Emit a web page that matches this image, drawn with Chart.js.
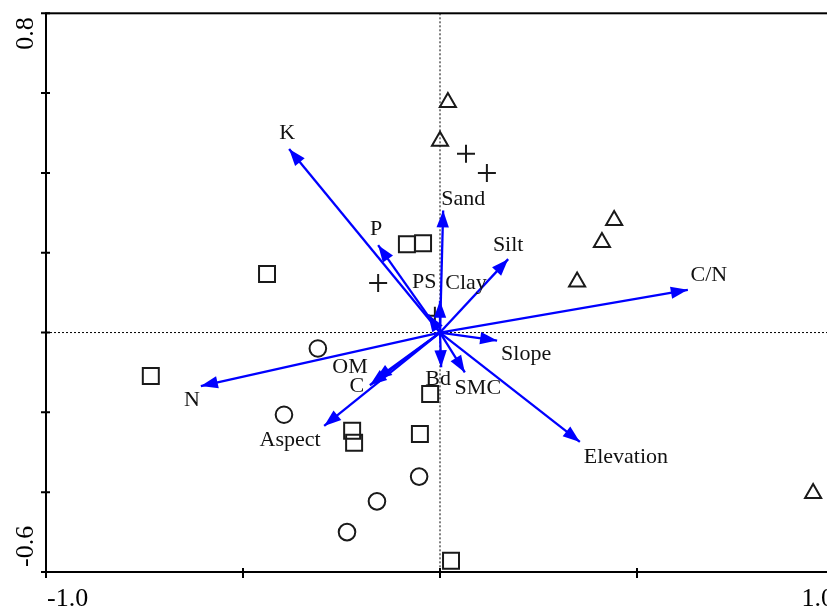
<!DOCTYPE html>
<html>
<head>
<meta charset="utf-8">
<script src="https://cdn.jsdelivr.net/npm/chart.js@4.4.1/dist/chart.umd.min.js"></script>
<style>
  html, body { margin: 0; padding: 0; background: #fff; overflow: hidden; }
  #wrap { width: 850px; height: 609px; position: relative; }
</style>
</head>
<body>
<div id="wrap"><canvas id="rdaChart"></canvas></div>
<script>
// Site scores (axis 1, axis 2)
const triangles = [[0.020, 0.577], [0.000, 0.480], [0.442, 0.281], [0.411, 0.226], [0.348, 0.127], [0.947, -0.403]];
const crosses = [[0.066, 0.448], [0.119, 0.400], [-0.157, 0.124], [-0.013, 0.042]];
const squares = [[-0.084, 0.221], [-0.043, 0.224], [-0.439, 0.147], [-0.734, -0.109], [-0.025, -0.154],
                 [-0.223, -0.246], [-0.218, -0.276], [-0.051, -0.254], [0.028, -0.572]];
const circles = [[-0.310, -0.040], [-0.396, -0.206], [-0.053, -0.361], [-0.160, -0.423], [-0.236, -0.500]];

// Environmental variables (arrow tips)
const envNames = ['K', 'P', 'Sand', 'Silt', 'Clay', 'PS', 'C/N', 'Slope', 'Elevation', 'SMC', 'Bd', 'OM', 'C', 'Aspect', 'N'];
const envX = [-0.383, -0.157, 0.008, 0.173, 0.000, -0.030, 0.629, 0.145, 0.355, 0.063, 0.003, -0.165, -0.178, -0.294, -0.607];
const envY = [0.460, 0.219, 0.306, 0.184, 0.080, 0.045, 0.107, -0.020, -0.274, -0.100, -0.087, -0.119, -0.132, -0.234, -0.134];

// Axis ticks
const xTicks = [-1, -0.5, 0, 0.5, 1];
const xTickLabels = ['-1.0', '', '', '', '1.0'];
const yTicks = [-0.6, -0.4, -0.2, 0, 0.2, 0.4, 0.6, 0.8];
const yTickLabels = ['-0.6', '', '', '', '', '', '', '0.8'];

// label placement relative to arrow tip (px)
const labelOffsets = [[-2, -16], [-2, -16], [20, -11], [0, -14], [26, -17], [-4, -32], [21, -15], [29, 14],
                      [46, 15], [13, 16], [-3, 12], [-25, -13], [-13, 1], [-34, 14], [-9, 14]];

const BLUE = '#0000ff';
const INK = '#1a1a1a';
const SERIF = '"Liberation Serif", "Times New Roman", serif';

function toPts(arr) {
    return arr.map(p => ({ x: p[0], y: p[1] }));
}

function markerSet(label, arr, style, radius) {
    return {
        label: label,
        data: toPts(arr),
        pointStyle: style,
        pointRadius: radius,
        pointHoverRadius: radius,
        pointBorderColor: INK,
        pointBackgroundColor: 'rgba(0,0,0,0)',
        pointBorderWidth: 2,
        showLine: false,
        order: 2
    };
}

const arrowSets = envNames.map((name, i) => ({
    label: name,
    isArrow: true,
    data: [{ x: 0, y: 0 }, { x: envX[i], y: envY[i] }],
    showLine: true,
    borderColor: BLUE,
    borderWidth: 2.3,
    pointRadius: 0,
    order: 1
}));

// dotted zero lines + frame, ticks and tick labels
const framePlugin = {
    id: 'frame',
    beforeDatasetsDraw(chart) {
        const { ctx, chartArea: a, scales: { x, y } } = chart;
        const x0 = x.getPixelForValue(0), y0 = y.getPixelForValue(0);
        ctx.save();
        ctx.strokeStyle = '#000';
        ctx.lineWidth = 1;
        ctx.setLineDash([2, 2]);
        ctx.beginPath();
        ctx.moveTo(x0, a.top); ctx.lineTo(x0, a.bottom);
        ctx.moveTo(a.left, y0); ctx.lineTo(a.right, y0);
        ctx.stroke();
        ctx.restore();
    },
    afterDraw(chart) {
        const { ctx, chartArea: a, scales: { x, y } } = chart;
        ctx.save();
        ctx.strokeStyle = '#000';
        ctx.lineWidth = 2;
        ctx.strokeRect(a.left, a.top, a.right - a.left, a.bottom - a.top);

        ctx.beginPath();
        xTicks.forEach(v => {
            const px = x.getPixelForValue(v);
            ctx.moveTo(px, a.bottom - 4); ctx.lineTo(px, a.bottom + 6);
        });
        yTicks.forEach(v => {
            const py = y.getPixelForValue(v);
            ctx.moveTo(a.left - 5, py); ctx.lineTo(a.left + 4, py);
        });
        ctx.stroke();

        ctx.fillStyle = '#000';
        ctx.font = '26px ' + SERIF;
        ctx.textBaseline = 'alphabetic';
        xTicks.forEach((v, i) => {
            if (!xTickLabels[i]) return;
            const px = x.getPixelForValue(v);
            ctx.textAlign = i === 0 ? 'left' : 'right';
            ctx.fillText(xTickLabels[i], i === 0 ? px + 1 : px, a.bottom + 34);
        });
        yTicks.forEach((v, i) => {
            if (!yTickLabels[i]) return;
            const py = y.getPixelForValue(v);
            ctx.save();
            ctx.translate(a.left - 13, i === 0 ? py - 5 : py + 4);
            ctx.rotate(-Math.PI / 2);
            ctx.textAlign = i === 0 ? 'left' : 'right';
            ctx.fillText(yTickLabels[i], 0, 0);
            ctx.restore();
        });
        ctx.restore();
    }
};

// arrow heads and variable names
const arrowPlugin = {
    id: 'arrows',
    afterDatasetsDraw(chart) {
        const ctx = chart.ctx;
        ctx.save();
        let k = 0;
        chart.data.datasets.forEach((ds, di) => {
            if (!ds.isArrow) return;
            const pts = chart.getDatasetMeta(di).data;
            const p0 = pts[0], p1 = pts[1];
            const ang = Math.atan2(p1.y - p0.y, p1.x - p0.x);
            const len = 17, half = 6.2;
            ctx.fillStyle = BLUE;
            ctx.beginPath();
            ctx.moveTo(p1.x, p1.y);
            ctx.lineTo(p1.x - len * Math.cos(ang) + half * Math.sin(ang), p1.y - len * Math.sin(ang) - half * Math.cos(ang));
            ctx.lineTo(p1.x - len * Math.cos(ang) - half * Math.sin(ang), p1.y - len * Math.sin(ang) + half * Math.cos(ang));
            ctx.closePath();
            ctx.fill();

            const off = labelOffsets[k];
            ctx.fillStyle = '#111';
            ctx.font = '22px ' + SERIF;
            ctx.textAlign = 'center';
            ctx.textBaseline = 'middle';
            ctx.fillText(ds.label, p1.x + off[0], p1.y + off[1]);
            k++;
        });
        ctx.restore();
    }
};

const ctx = document.getElementById('rdaChart').getContext('2d');
new Chart(ctx, {
    type: 'scatter',
    data: {
        datasets: [
            markerSet('triangle', triangles, 'triangle', 9.3),
            markerSet('cross', crosses, 'cross', 9),
            markerSet('square', squares, 'rect', 11.3),
            markerSet('circle', circles, 'circle', 8.3),
            ...arrowSets
        ]
    },
    options: {
        responsive: true,
        maintainAspectRatio: false,
        animation: false,
        layout: { padding: { left: 46, top: 9, right: 16, bottom: 37 } },
        plugins: { legend: { display: false }, tooltip: { enabled: false } },
        scales: {
            x: { type: 'linear', min: -1, max: 1, display: false },
            y: { type: 'linear', min: -0.6, max: 0.8, display: false }
        }
    },
    plugins: [framePlugin, arrowPlugin]
});
</script>
</body>
</html>
